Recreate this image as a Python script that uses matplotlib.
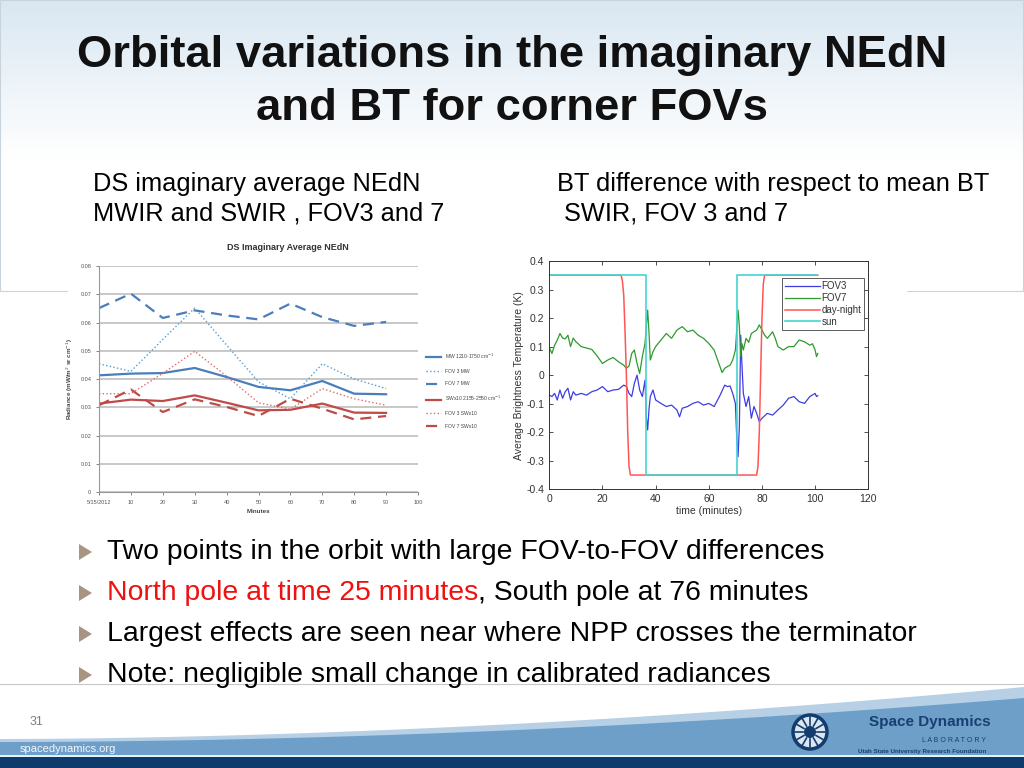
import matplotlib as mpl
mpl.use('Agg')
import matplotlib.pyplot as plt
from matplotlib.patches import Polygon, Rectangle, Circle
import numpy as np

plt.rcParams['font.family'] = ['Liberation Sans', 'DejaVu Sans']

# ---- left chart: DS imaginary average NEdN ----
minutes = [0, 10, 20, 30, 40, 50, 60, 70, 80, 90]
mw_all = [0.0413, 0.0419, 0.0421, 0.0439, 0.0407, 0.0372, 0.0360, 0.0393, 0.0348, 0.0346]
mw_fov3 = [0.0454, 0.0427, 0.0540, 0.0651, 0.0520, 0.0390, 0.0330, 0.0454, 0.0400, 0.0366]
mw_fov7 = [0.0651, 0.0702, 0.0616, 0.0643, 0.0625, 0.0611, 0.0667, 0.0619, 0.0588, 0.0602]
sw_all = [0.0313, 0.0327, 0.0322, 0.0342, 0.0316, 0.0289, 0.0291, 0.0313, 0.0281, 0.0280]
sw_fov3 = [0.0348, 0.0348, 0.0420, 0.0498, 0.0410, 0.0316, 0.0293, 0.0366, 0.0330, 0.0307]
sw_fov7 = [0.0307, 0.0363, 0.0283, 0.0328, 0.0301, 0.0269, 0.0330, 0.0295, 0.0257, 0.0269]
left_xticks = [0, 10, 20, 30, 40, 50, 60, 70, 80, 90, 100]
left_xlabels = ['5/15/2012', '10', '20', '30', '40', '50', '60', '70', '80', '90', '100']
left_yticks = [0, 0.01, 0.02, 0.03, 0.04, 0.05, 0.06, 0.07, 0.08]
left_ylabels = ['0', '0.01', '0.02', '0.03', '0.04', '0.05', '0.06', '0.07', '0.08']

# ---- right chart: BT difference w.r.t. mean BT ----
fov7_t = [0, 1, 2, 3, 4, 5, 6, 7, 8, 9, 10, 11, 12, 14, 16, 18, 20, 22, 24, 26,
          28, 29, 30, 31, 32, 33, 34, 35, 36, 36.5, 37, 37.5, 38, 39, 40, 42, 44, 46, 48, 50,
          52, 54, 56, 58, 60, 62, 64, 65, 66, 67, 68, 69, 70, 71, 71.5, 72, 72.5, 73, 74, 75,
          76, 78, 79, 80, 81, 82, 83, 84, 85, 86, 88, 90, 92, 94, 96, 98, 99, 100, 100.5, 101]
fov7_v = [0.096, 0.076, 0.105, 0.123, 0.146, 0.130, 0.127, 0.140, 0.100, 0.130, 0.117, 0.109, 0.100, 0.095, 0.090, 0.067, 0.041, 0.053, 0.062, 0.047,
          0.035, 0.024, 0.032, 0.076, 0.088, 0.041, 0.006, 0.065, 0.111, 0.170, 0.228, 0.150, 0.053, 0.082, 0.100, 0.123, 0.146, 0.129, 0.158, 0.170,
          0.152, 0.158, 0.140, 0.129, 0.111, 0.088, 0.035, 0.009, 0.024, 0.030, 0.035, 0.053, 0.088, 0.228, 0.170, 0.065, 0.110, 0.088, 0.129, 0.115,
          0.146, 0.158, 0.176, 0.158, 0.140, 0.129, 0.140, 0.152, 0.129, 0.100, 0.088, 0.100, 0.100, 0.123, 0.117, 0.105, 0.110, 0.088, 0.065, 0.076]
fov3_t = [0, 1, 2, 3, 4, 5, 6, 7, 8, 9, 10, 12, 14, 16, 18, 20, 22, 24, 26, 28,
          29, 30, 31, 32, 33, 34, 35, 36, 36.5, 37, 37.5, 38, 39, 40, 42, 44, 46, 48, 49, 50,
          52, 54, 56, 58, 60, 62, 64, 66, 67, 68, 69, 70, 70.5, 71, 71.5, 72, 72.5, 73, 74, 75,
          76, 77, 78, 79, 80, 82, 84, 86, 88, 90, 92, 94, 96, 98, 100, 100.5, 101]
fov3_v = [-0.070, -0.075, -0.064, -0.087, -0.052, -0.081, -0.058, -0.046, -0.087, -0.058, -0.070, -0.064, -0.070, -0.058, -0.052, -0.040, -0.058, -0.052, -0.050, -0.035,
          -0.040, -0.064, -0.075, -0.029, 0.000, -0.052, -0.075, -0.018, -0.146, -0.192, -0.120, -0.075, -0.052, -0.087, -0.099, -0.110, -0.105, -0.122, -0.146, -0.116,
          -0.110, -0.099, -0.093, -0.105, -0.099, -0.110, -0.075, -0.035, -0.040, -0.038, -0.064, -0.099, -0.216, -0.286, -0.180, 0.140, 0.030, -0.064, -0.110, -0.075,
          -0.151, -0.110, -0.134, -0.163, -0.151, -0.134, -0.140, -0.122, -0.105, -0.081, -0.075, -0.093, -0.099, -0.075, -0.064, -0.075, -0.072]
daynight_t = [0, 27, 27.5, 28, 28.5, 29, 29.5, 30, 30.5, 78, 78.5, 79, 79.5, 80, 80.5, 81, 101]
daynight_v = [0.35, 0.35, 0.33, 0.28, 0.15, 0.0, -0.2, -0.32, -0.35, -0.35, -0.32, -0.2, 0.0, 0.2, 0.32, 0.35, 0.35]
sun_t = [0, 36.3, 36.3, 70.5, 70.5, 100.7]
sun_v = [0.35, 0.35, -0.35, -0.35, 0.35, 0.35]

title_lines = ['Orbital variations in the imaginary NEdN', 'and BT for corner FOVs']
bullets = ['Two points in the orbit with large FOV-to-FOV differences',
           None,
           'Largest effects are seen near where NPP crosses the terminator',
           'Note: negligible small change in calibrated radiances']

W, H = 1024, 768


def fx(x):
    return x / W


def fy(y):
    return 1 - y / H


fig = plt.figure(figsize=(10.24, 7.68), dpi=100)
fig.patch.set_facecolor('white')

# background layer
bg = fig.add_axes([0, 0, 1, 1], zorder=-5)
bg.set_xlim(0, W)
bg.set_ylim(H, 0)
bg.axis('off')
grad = np.linspace(0, 1, 256).reshape(-1, 1)
cmap = mpl.colors.LinearSegmentedColormap.from_list('g', ['#d9e7f2', '#ffffff'])
bg.imshow(grad, cmap=cmap, extent=[0, W, 160, 0], aspect='auto')
bg.add_patch(Rectangle((0, 0), W - 1, 291, fill=False, ec='#c8d3dc', lw=0.8))
bg.plot([0, W], [684, 684], color='#c8c8c8', lw=0.8)
bg.add_patch(Rectangle((68, 240), 838, 60, color='white', zorder=2))

# footer wave
xs = np.linspace(0, W, 60)
top1 = 739 - 52 * (xs / W) ** 1.8
top2 = 742 - 44 * (xs / W) ** 1.9
bg.add_patch(Polygon(np.column_stack([np.r_[xs, W, 0], np.r_[top1, 768, 768]]), color='#b7d0e6', lw=0))
bg.add_patch(Polygon(np.column_stack([np.r_[xs, W, 0], np.r_[top2, 768, 768]]), color='#6d9fc8', lw=0))
bg.add_patch(Rectangle((0, 755), W, 2, color='#e8f0f7', lw=0))
bg.add_patch(Rectangle((0, 757), W, 11, color='#0e3a6c', lw=0))
bg.add_patch(Circle((810, 732), 17, fc='#dbe6f0', ec='#123d6e', lw=2.5))
bg.add_patch(Circle((810, 732), 6, fc='#123d6e', lw=0))
for a in np.linspace(0, 2 * np.pi, 12, endpoint=False):
    bg.plot([810 + 7 * np.cos(a), 810 + 15 * np.cos(a)], [732 + 7 * np.sin(a), 732 + 15 * np.sin(a)],
            color='#123d6e', lw=1.2)

# title and headings
fig.text(0.5, fy(55), title_lines[0], ha='center', va='center', fontsize=32.7, fontweight='bold', color='#111111')
fig.text(0.5, fy(108), title_lines[1], ha='center', va='center', fontsize=32.7, fontweight='bold', color='#111111')
fig.text(fx(93), fy(184), 'DS imaginary average NEdN', ha='left', va='center', fontsize=18.3)
fig.text(fx(93), fy(214), 'MWIR and SWIR , FOV3 and 7', ha='left', va='center', fontsize=18.3)
fig.text(fx(557), fy(184), 'BT difference with respect to mean BT', ha='left', va='center', fontsize=18.3)
fig.text(fx(564), fy(214), 'SWIR, FOV 3 and 7', ha='left', va='center', fontsize=18.3)

# bullets
for i, yy in enumerate([552, 593, 634, 675]):
    bg.add_patch(Polygon([[79, yy - 8], [79, yy + 8], [92, yy]], color='#a89482', lw=0))
    if bullets[i] is not None:
        fig.text(fx(107), fy(yy), bullets[i], ha='left', va='center', fontsize=20.4)
t1 = fig.text(fx(107), fy(593), 'North pole at time 25 minutes', ha='left', va='center', fontsize=20.4, color='#ee1111')
fig.canvas.draw()
bb = t1.get_window_extent()
fig.text(bb.x1 / W, bb.y0 / H, ', South pole at 76 minutes', ha='left', va='bottom', fontsize=20.4)

# footer text
fig.text(fx(30), fy(722), '31', fontsize=9, color='#7f7f7f', va='center')
fig.text(fx(20), fy(749), 'spacedynamics.org', fontsize=8, color='#f4f8fb', va='center')
fig.text(fx(869), fy(722), 'Space Dynamics', fontsize=11, fontweight='bold', color='#173f72', va='center')
fig.text(fx(986), fy(740), 'L A B O R A T O R Y', fontsize=5, color='#173f72', va='center', ha='right')
fig.text(fx(986), fy(751), 'Utah State University Research Foundation', fontsize=4.5, fontweight='bold',
         color='#173f72', va='center', ha='right')

# ---- left chart ----
fig.text(fx(288), fy(248), 'DS Imaginary Average NEdN', ha='center', va='center', fontsize=6.5, fontweight='bold',
         color='#333333', zorder=5)
ax1 = fig.add_axes([fx(99), fy(492), (418 - 99) / W, (492 - 266) / H])
ax1.plot(minutes, mw_all, color='#4a7ebb', lw=1.6, label='MW 1210-1750 cm$^{-1}$')
ax1.plot(minutes, mw_fov3, color='#4f9fd6', lw=1, ls=':', label='FOV 3 MW')
ax1.plot(minutes, mw_fov7, color='#4a7ebb', lw=1.6, ls=(0, (5, 3)), label='FOV 7 MW')
ax1.plot(minutes, sw_all, color='#be4b48', lw=1.6, label='SWx10 2155-2550 cm$^{-1}$')
ax1.plot(minutes, sw_fov3, color='#e06a6a', lw=1, ls=':', label='FOV 3 SWx10')
ax1.plot(minutes, sw_fov7, color='#be4b48', lw=1.6, ls=(0, (5, 3)), label='FOV 7 SWx10')
ax1.set_xlim(0, 100)
ax1.set_ylim(0, 0.08)
ax1.set_xticks(left_xticks)
ax1.set_xticklabels(left_xlabels)
ax1.set_yticks(left_yticks)
ax1.set_yticklabels(left_ylabels)
ax1.tick_params(labelsize=4, colors='#555555', length=2, width=0.5)
ax1.grid(axis='y', color='#bfbfbf', lw=1.2)
ax1.set_axisbelow(True)
for s in ['top', 'right']:
    ax1.spines[s].set_visible(False)
for s in ['left', 'bottom']:
    ax1.spines[s].set_color('#999999')
    ax1.spines[s].set_linewidth(0.8)
ax1.set_xlabel('Minutes', fontsize=4.5, fontweight='bold', color='#444444', labelpad=3)
ax1.set_ylabel('Radiance (mW/m$^2$ sr cm$^{-1}$)', fontsize=4.5, fontweight='bold', color='#444444', labelpad=4)
ax1.legend(loc='center left', bbox_to_anchor=(1.01, 0.45), fontsize=3.6, frameon=False, handlelength=3,
           labelspacing=1.55, labelcolor='#444444')

# ---- right chart ----
ax2 = fig.add_axes([fx(549.3), fy(489.3), (868.3 - 549.3) / W, (489.3 - 261) / H])
ax2.plot(fov3_t, fov3_v, color='#3d3de0', lw=0.9, label='FOV3')
ax2.plot(fov7_t, fov7_v, color='#2f9a2f', lw=0.9, label='FOV7')
ax2.plot(daynight_t, daynight_v, color='#ff5555', lw=1.1, label='day-night')
ax2.plot(sun_t, sun_v, color='#44d4d4', lw=1.2, label='sun')
ax2.set_xlim(0, 120)
ax2.set_ylim(-0.4, 0.4)
ax2.set_xticks([0, 20, 40, 60, 80, 100, 120])
ax2.set_yticks([-0.4, -0.3, -0.2, -0.1, 0, 0.1, 0.2, 0.3, 0.4])
ax2.set_yticklabels(['-0.4', '-0.3', '-0.2', '-0.1', '0', '0.1', '0.2', '0.3', '0.4'])
ax2.tick_params(direction='in', top=True, right=True, labelsize=7.5, colors='#333333', length=3, width=0.6)
for s in ax2.spines.values():
    s.set_color('#333333')
    s.set_linewidth(0.7)
ax2.set_xlabel('time (minutes)', fontsize=7.5, color='#333333', labelpad=1)
ax2.set_ylabel('Average Brightness Temperature (K)', fontsize=7.5, color='#333333', labelpad=2)
leg = ax2.legend(loc='upper right', bbox_to_anchor=(0.988, 0.925), fontsize=7, handlelength=3.6,
                 fancybox=False, edgecolor='#333333', borderaxespad=0.0, labelcolor='#333333',
                 handletextpad=0.2, labelspacing=0.2, borderpad=0.3)
leg.get_frame().set_linewidth(0.7)

fig.savefig('out.png', dpi=100, facecolor=fig.get_facecolor())
